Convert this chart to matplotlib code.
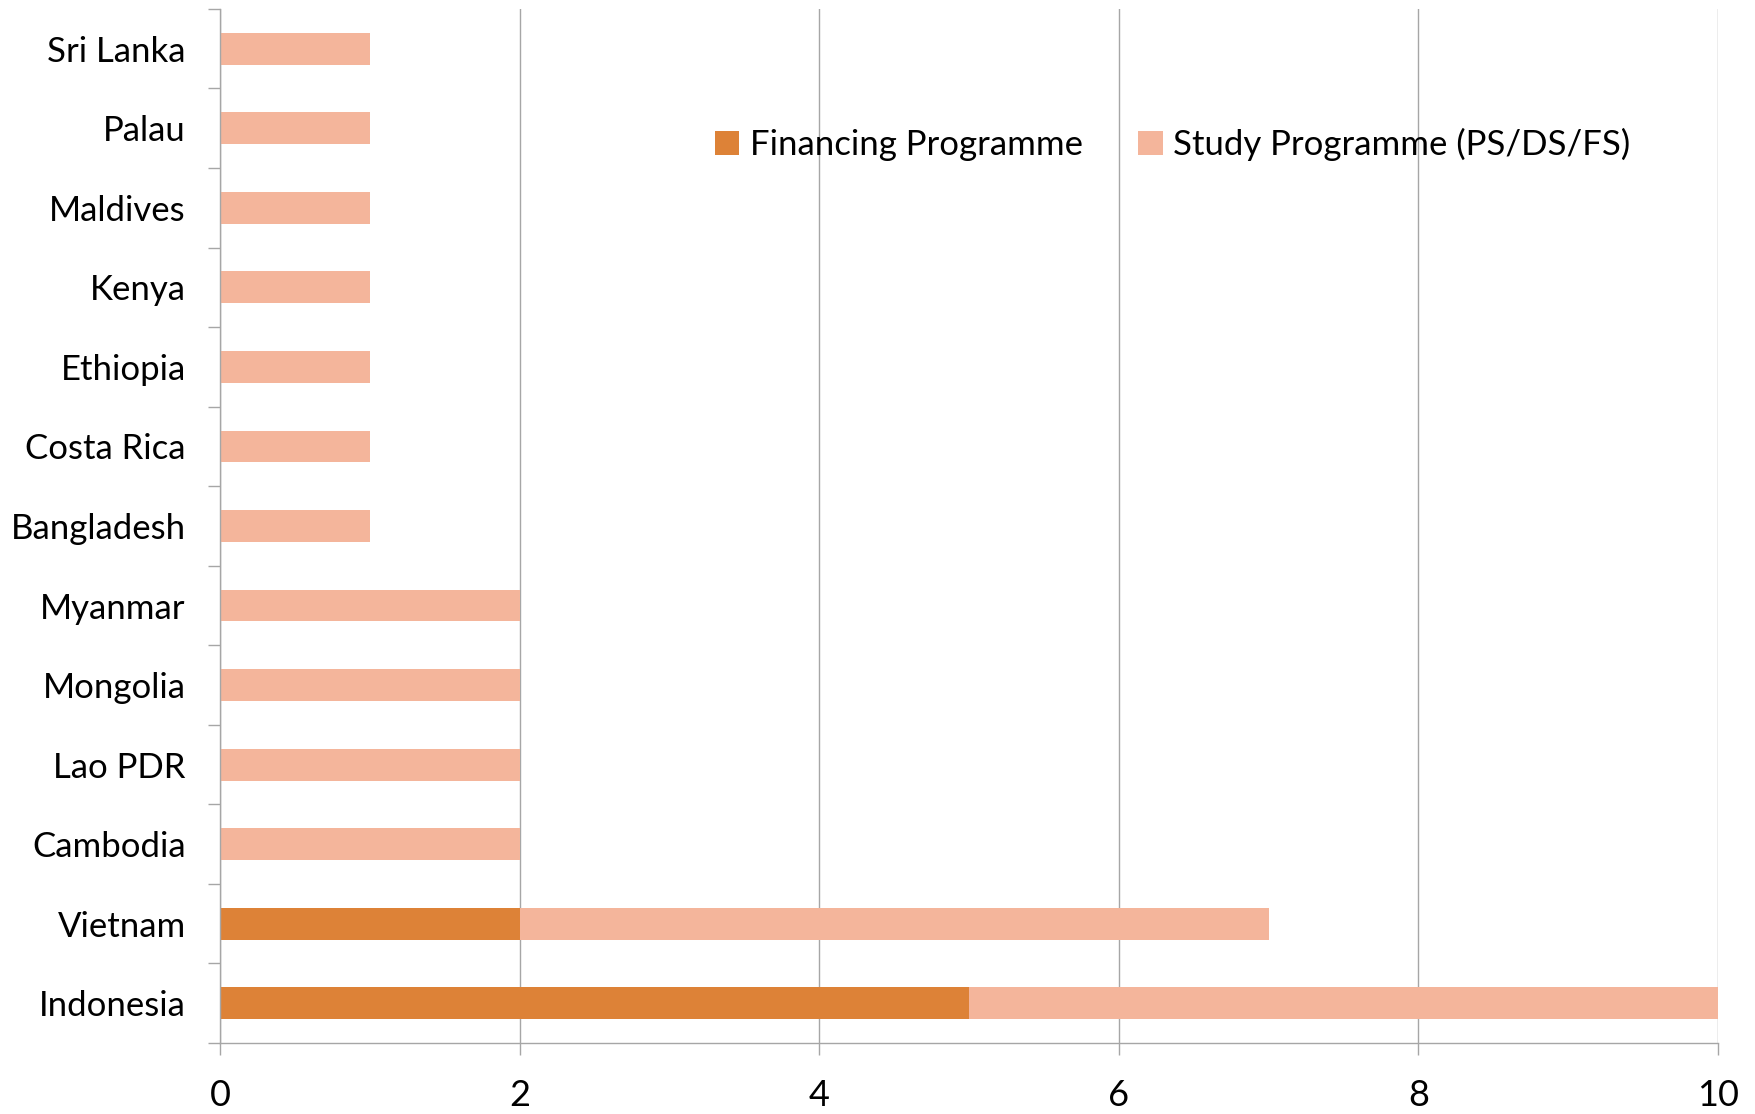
import matplotlib.pyplot as plt
import numpy as np

# data, bottom to top
countries = ["Indonesia", "Vietnam", "Cambodia", "Lao PDR", "Mongolia", "Myanmar",
             "Bangladesh", "Costa Rica", "Ethiopia", "Kenya", "Maldives", "Palau", "Sri Lanka"]
financing = [5, 2, 0, 0, 0, 0, 0, 0, 0, 0, 0, 0, 0]
study = [5, 5, 2, 2, 2, 2, 1, 1, 1, 1, 1, 1, 1]
xticks = [0, 2, 4, 6, 8, 10]

dark = "#DD8237"
light = "#F4B59B"
grey = "#A6A6A6"

plt.rcParams['font.family'] = ['Lato', 'DejaVu Sans']

fig = plt.figure(figsize=(17.55, 11.14), dpi=100)
ax = fig.add_axes([0.1253, 0.0637, 0.979 - 0.1253, 0.992 - 0.0637])

y = np.arange(len(countries))
ax.barh(y, financing, height=0.4, color=dark, label="Financing Programme", zorder=3)
ax.barh(y, study, left=financing, height=0.4, color=light,
        label="Study Programme (PS/DS/FS)", zorder=3)

ax.set_xlim(0, 10)
ax.set_ylim(-0.5, len(countries) - 0.5)
ax.set_xticks(xticks)
ax.set_xticklabels([str(v) for v in xticks], fontsize=26)
ax.set_yticks(y)
ax.set_yticklabels(countries, fontsize=25)
ax.set_yticks(np.arange(-0.5, len(countries)), minor=True)

ax.tick_params(axis='y', which='major', length=0, pad=24.5)
ax.tick_params(axis='y', which='minor', length=8.6, color=grey, width=1)
ax.tick_params(axis='x', which='major', length=8.6, color=grey, width=1, pad=17)

ax.xaxis.grid(True, color=grey, linewidth=1, zorder=0)
ax.set_axisbelow(True)
for s in ['top', 'right']:
    ax.spines[s].set_visible(False)
for s in ['left', 'bottom']:
    ax.spines[s].set_color(grey)
    ax.spines[s].set_linewidth(1)
    ax.spines[s].set_zorder(4)

ax.legend(loc='center', bbox_to_anchor=(0.636, 0.869), ncol=2, frameon=False,
          fontsize=25, handlelength=0.7, handleheight=0.7, handletextpad=0.3,
          columnspacing=1.6)

fig.savefig("out.png", dpi=100)
